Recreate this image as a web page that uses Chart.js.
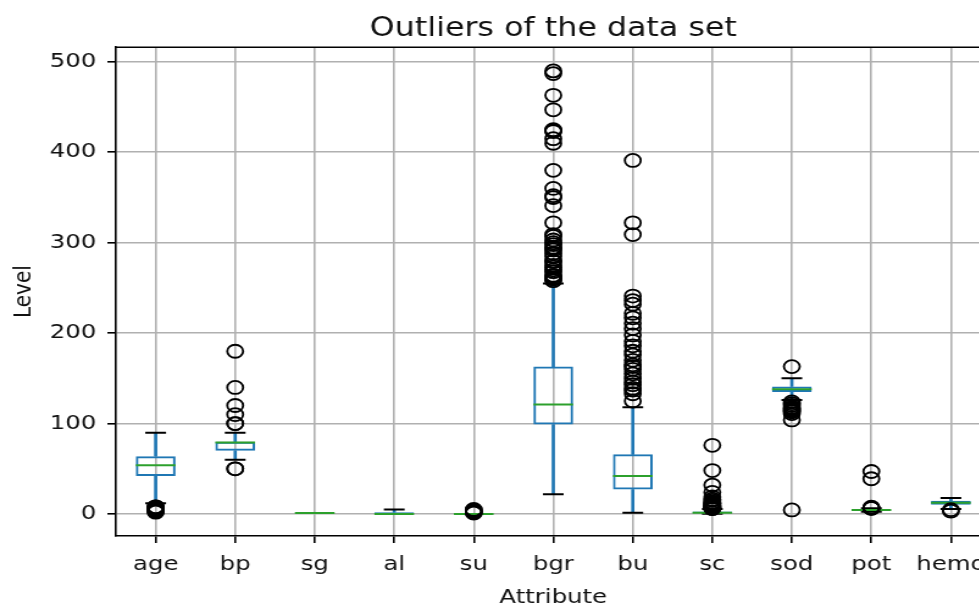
<!DOCTYPE html>
<html>
<head>
<meta charset="utf-8">
<script src="https://cdn.jsdelivr.net/npm/chart.js@4.4.1/dist/chart.umd.min.js"></script>
<style>
  html, body { margin: 0; padding: 0; background: #fff; }
  #clip { width: 979px; height: 605px; overflow: hidden; position: relative; }
  #stretch { transform: scaleX(1.22); transform-origin: 0 0; width: 812px; height: 605px; }
</style>
</head>
<body>
<div id="clip"><div id="stretch"><canvas id="c" width="812" height="605"></canvas></div></div>
<script>
// ---- data ----
const titleText = 'Outliers of the data set';
const xTitle = 'Attribute';
const yTitle = 'Level';
const categories = ['age', 'bp', 'sg', 'al', 'su', 'bgr', 'bu', 'sc', 'sod', 'pot', 'hemo'];
const yTicks = [0, 100, 200, 300, 400, 500];
const q1 =          [42, 70, 1.015, 0, 0, 99, 27, 0.9, 135, 3.8, 10.3];
const median =      [54, 79, 1.02,  0, 0, 121, 42, 1.3, 138, 4.4, 12.5];
const q3 =          [64, 80, 1.02,  2, 0, 163, 66, 2.7, 141, 4.8, 14.6];
const whiskerLow =  [12, 60, 1.005, 0, 0, 22, 1.5, 0.4, 126, 2.5, 5.5];
const whiskerHigh = [90, 90, 1.025, 5, 0, 255, 118, 5.6, 150, 6.3, 17.8];

const ageOut = [2, 3, 4, 5, 6, 7, 8, 8];
const bpOut = [50, 50, 100, 100, 110, 120, 140, 180];
const sgOut = [];
const alOut = [];
const suOut = [1, 2, 3, 4, 5];
const bgrOut = [490, 487, 463, 447, 425, 424, 423, 415, 410, 380, 360, 352, 350, 341, 322, 309, 307, 303, 300, 298, 295, 294, 292, 288, 285, 280, 279, 275, 273, 270, 268, 264, 263, 261, 260, 258];
const buOut = [391, 322, 309, 241, 236, 232, 222, 217, 211, 205, 198, 191, 186, 180, 176, 170, 165, 163, 160, 155, 150, 146, 143, 139, 137, 133, 125];
const scOut = [76, 48.1, 32, 24, 18.8, 16.4, 15, 13.3, 12.2, 11.9, 11.5, 10.8, 9.7, 9.6, 8.8, 8.5, 7.7, 7.3, 7.2, 6.7, 6.5, 6.3, 6.1];
const sodOut = [163, 124, 122, 120, 118, 117, 116, 115, 114, 113, 111, 104, 4.5];
const potOut = [47, 39, 7.6, 6.6, 6.5, 6.4];
const hemoOut = [3.1, 4.8];
const outliers = [ageOut, bpOut, sgOut, alOut, suOut, bgrOut, buOut, scOut, sodOut, potOut, hemoOut];

// ---- derived library structures ----
const boxData = categories.map((c, i) => [q1[i], q3[i]]);
const lowWhiskData = categories.map((c, i) => [whiskerLow[i], q1[i]]);
const highWhiskData = categories.map((c, i) => [q3[i], whiskerHigh[i]]);
const capData = categories.flatMap((c, i) => [{x: c, y: whiskerLow[i]}, {x: c, y: whiskerHigh[i]}]);
const outData = categories.flatMap((c, i) => outliers[i].map(v => ({x: c, y: v})));

const BLUE = '#1f77b4', GREEN = '#2ca02c', GRID = '#b0b0b0';
const FONT = "'DejaVu Sans', sans-serif";
Chart.defaults.font.family = FONT;
Chart.defaults.color = '#111';

const framePlugin = {
  id: 'frame',
  afterDatasetsDraw(chart) {
    const {ctx, chartArea: a} = chart;
    ctx.save();
    ctx.strokeStyle = '#000';
    ctx.lineWidth = 1.6;
    ctx.beginPath();
    ctx.moveTo(a.left, a.top);
    ctx.lineTo(a.right, a.top);
    ctx.lineTo(a.right, a.bottom);
    ctx.stroke();
    ctx.restore();
  }
};

new Chart(document.getElementById('c'), {
  type: 'bar',
  data: {
    labels: categories,
    datasets: [
      { type: 'line', data: outData, showLine: false, order: 0,
        pointStyle: 'circle', pointRadius: 6.5, pointBackgroundColor: 'rgba(0,0,0,0)',
        pointBorderColor: '#000', pointBorderWidth: 1.8 },
      { type: 'line', data: median, showLine: false, order: 1,
        pointStyle: 'line', pointRadius: 16.25, pointBorderColor: GREEN, pointBorderWidth: 2 },
      { type: 'line', data: capData, showLine: false, order: 2,
        pointStyle: 'line', pointRadius: 8.5, pointBorderColor: '#000', pointBorderWidth: 2 },
      { type: 'bar', data: boxData, order: 3, grouped: false,
        backgroundColor: 'rgba(0,0,0,0)', borderColor: BLUE, borderWidth: 2, borderSkipped: false,
        barPercentage: 0.5, categoryPercentage: 1 },
      { type: 'bar', data: lowWhiskData, order: 4, grouped: false,
        backgroundColor: BLUE, borderWidth: 0, barThickness: 2 },
      { type: 'bar', data: highWhiskData, order: 4, grouped: false,
        backgroundColor: BLUE, borderWidth: 0, barThickness: 2 }
    ]
  },
  options: {
    responsive: false,
    animation: false,
    events: [],
    layout: { padding: 0, autoPadding: false },
    plugins: {
      legend: { display: false },
      tooltip: { enabled: false },
      title: {
        display: true, text: titleText, fullSize: false, color: '#111',
        font: { family: FONT, size: 26, weight: 'normal', lineHeight: 1.2 },
        padding: { top: 14, bottom: 2 }
      }
    },
    scales: {
      x: {
        type: 'category', offset: true,
        grid: { offset: false, color: GRID, lineWidth: 1.6, tickColor: '#000', tickWidth: 1.6, tickLength: 7 },
        border: { color: '#000', width: 1.6 },
        ticks: { color: '#111', font: { size: 20 }, padding: 10, maxRotation: 0, autoSkip: false },
        title: { display: true, text: xTitle, color: '#111', font: { size: 20, lineHeight: 1.0 }, padding: { top: 0, bottom: -3 } },
        afterFit: s => { s.height = 69; s.paddingLeft = 0; s.paddingRight = 0; }
      },
      y: {
        type: 'linear', min: -24.3, max: 516.2,
        afterBuildTicks: s => { s.ticks = yTicks.map(v => ({ value: v })); },
        grid: { color: GRID, lineWidth: 1.6, tickColor: '#000', tickWidth: 1.6, tickLength: 7 },
        border: { color: '#000', width: 1.6 },
        ticks: { color: '#111', font: { size: 20 }, padding: 9 },
        title: { display: true, text: yTitle, color: '#111', font: { size: 20, lineHeight: 1.1 }, padding: { top: 9, bottom: 0 } },
        afterFit: s => { s.width = 95; s.paddingTop = 0; s.paddingBottom = 0; }
      }
    }
  },
  plugins: [framePlugin]
});
</script>
</body>
</html>
